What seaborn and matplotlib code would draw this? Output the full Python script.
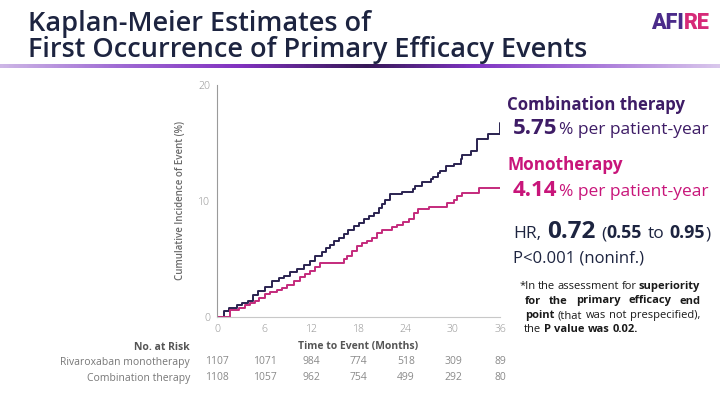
import numpy as np
import pandas as pd
import matplotlib
matplotlib.use("Agg")
import matplotlib.pyplot as plt
from matplotlib.colors import LinearSegmentedColormap
import seaborn as sns

# ---------------- data ----------------
combo_t = [0, 0.8, 1.5, 2.5, 3.1, 3.9, 4.6, 5.2, 6.1, 7.0, 7.8, 8.5, 9.3, 10.1, 11.0, 11.8,
           12.5, 13.3, 13.8, 14.3, 14.9, 15.5, 16.1, 16.7, 17.4, 18.0, 18.7, 19.3, 19.9,
           20.6, 21.0, 21.4, 22.0, 23.5, 24.9, 25.2, 26.1, 27.2, 27.5, 28.1, 28.4, 29.1,
           30.1, 31.0, 31.2, 32.3, 33.1, 34.5, 36.0]
combo_y = [0, 0.5, 0.75, 1.05, 1.2, 1.35, 1.85, 2.2, 2.6, 3.05, 3.35, 3.55, 3.85, 4.15,
           4.45, 4.85, 5.25, 5.55, 5.9, 6.2, 6.5, 6.8, 7.15, 7.5, 7.8, 8.1, 8.4, 8.65, 8.95,
           9.4, 9.7, 10.05, 10.55, 10.75, 11.0, 11.3, 11.6, 11.9, 12.1, 12.4, 12.6, 13.0,
           13.2, 13.6, 14.0, 14.3, 15.3, 15.8, 16.7]
mono_t = [0, 1.6, 2.7, 3.5, 4.2, 4.8, 5.3, 6.1, 6.7, 7.6, 8.2, 8.9, 9.8, 10.5, 11.2, 11.8,
          12.5, 13.1, 16.1, 16.5, 17.2, 17.8, 18.4, 19.1, 19.7, 20.4, 21.0, 22.3, 22.9,
          23.7, 24.4, 25.0, 25.6, 27.0, 29.2, 30.1, 30.5, 31.2, 33.3, 36.0]
mono_y = [0, 0.6, 0.75, 1.0, 1.2, 1.35, 1.65, 1.95, 2.15, 2.3, 2.5, 2.75, 3.1, 3.45, 3.65,
          3.95, 4.25, 4.66, 4.97, 5.25, 5.63, 6.06, 6.35, 6.55, 6.8, 7.2, 7.5, 7.75, 7.95,
          8.2, 8.4, 8.95, 9.3, 9.5, 9.8, 10.05, 10.4, 10.65, 11.1, 11.1]

month_ticks = [0, 6, 12, 18, 24, 30, 36]
y_ticks = [0, 10, 20]
risk_labels = ["Rivaroxaban monotherapy", "Combination therapy"]
risk_mono = [1107, 1071, 984, 774, 518, 309, 89]
risk_combo = [1108, 1057, 962, 754, 499, 292, 80]

title_lines = ["Kaplan-Meier Estimates of", "First Occurrence of Primary Efficacy Events"]

# ---------------- style ----------------
sns.set_theme(style="white")
plt.rcParams["font.family"] = ["Open Sans", "DejaVu Sans"]

C_COMBO = "#2a2250"
C_MONO = "#c42a7c"
C_COMBO_TXT = "#3e1c66"
C_MONO_TXT = "#c8157a"
C_DARK = "#1d2440"

W, H = 720, 405
fig = plt.figure(figsize=(7.2, 4.05), dpi=100)
fig.patch.set_facecolor("white")
renderer = fig.canvas.get_renderer()


def fx(x):
    return x / W


def fy(y):
    return 1 - y / H


# ---------------- title + gradient ----------------
fig.text(fx(28), fy(31), title_lines[0], fontsize=19.5, fontweight="semibold",
         color=C_DARK, va="baseline", ha="left")
fig.text(fx(28), fy(57.5), title_lines[1], fontsize=19.5, fontweight="semibold",
         color=C_DARK, va="baseline", ha="left")

gax = fig.add_axes([0, fy(68.5), 1, 4.5 / H])
gcmap = LinearSegmentedColormap.from_list(
    "g", [(0.0, "#cdb6e6"), (0.16, "#a06cd4"), (0.33, "#8232c0"), (0.51, "#361856"),
          (0.66, "#7f34c2"), (0.82, "#a674d8"), (1.0, "#d9c7ec")])
gax.imshow(np.linspace(0, 1, 400)[None, :], aspect="auto", cmap=gcmap)
gax.axis("off")

# AFIRE logo
t1 = fig.text(fx(651), fy(29), "AFI", fontsize=15.5, fontweight="heavy", color="#4b2b8a",
              family=["Roboto", "DejaVu Sans"], va="baseline", ha="left")
bb = t1.get_window_extent(renderer=renderer)
fig.text(fx(651 + bb.width + 0.5), fy(29), "RE", fontsize=15.5, fontweight="heavy",
         color="#d62a78", family=["Roboto", "DejaVu Sans"], va="baseline", ha="left")

# ---------------- KM plot ----------------
ax = fig.add_axes([fx(217.3), fy(316.7), (500 - 217.3) / W, (316.7 - 85) / H])
df = pd.concat([
    pd.DataFrame({"t": combo_t, "y": combo_y, "grp": "Combination therapy"}),
    pd.DataFrame({"t": mono_t, "y": mono_y, "grp": "Monotherapy"}),
])
sns.lineplot(data=df, x="t", y="y", hue="grp", estimator=None, drawstyle="steps-post",
             palette={"Combination therapy": C_COMBO, "Monotherapy": C_MONO},
             linewidth=1.4, legend=False, ax=ax)
ax.set_xlim(0, 36)
ax.set_ylim(0, 20)
ax.set_xticks(month_ticks)
ax.set_yticks(y_ticks)
ax.set_xlabel("")
ax.set_ylabel("")
for s in ["top", "right"]:
    ax.spines[s].set_visible(False)
for s in ["left", "bottom"]:
    ax.spines[s].set_color("#9a9a9a")
    ax.spines[s].set_linewidth(0.8)
ax.spines["bottom"].set_color("#c8c8c8")
ax.tick_params(axis="both", which="both", direction="out", length=3, width=0.7,
               color="#9a9a9a", labelcolor="#8f8f8f", labelsize=7.5, pad=2)
ax.patch.set_alpha(0)
for lab in ax.get_xticklabels() + ax.get_yticklabels():
    lab.set_fontweight("light")

fig.text(fx(180.5), fy(200), "Cumulative Incidence of Event (%)", rotation=90,
         fontsize=7, fontweight="semibold", color="#6a6a6a", ha="center", va="center")

# ---------------- risk table ----------------
fig.text(fx(190), fy(347), "No. at Risk", fontsize=7.5, fontweight="bold", color="#555555",
         ha="right", va="center")
fig.text(fx(358), fy(347), "Time to Event (Months)", fontsize=7.5, fontweight="bold",
         color="#555555", ha="center", va="center")
row_y = [362, 378]
for lab, vals, yy in zip(risk_labels, [risk_mono, risk_combo], row_y):
    fig.text(fx(190), fy(yy), lab, fontsize=7.5, color="#777777", ha="right", va="center")
    for m, v in zip(month_ticks, vals):
        ax.text(m, (316.7 - yy) / (316.7 - 85) * 20, str(v), fontsize=7.5, color="#8a8a8a",
                ha="center", va="center", clip_on=False)


# ---------------- right panel ----------------
def runs(x, ybase, parts):
    for s, kw in parts:
        if s == " ":
            x += kw
            continue
        t = fig.text(fx(x), fy(ybase), s, va="baseline", ha="left", **kw)
        x += t.get_window_extent(renderer=renderer).width
    return x


fig.text(fx(507), fy(110), "Combination therapy", fontsize=12.1, fontweight="bold",
         color=C_COMBO_TXT, va="baseline", ha="left")
runs(513, 134.5, [("5.75", dict(fontsize=16, fontweight="bold", color=C_COMBO_TXT)),
                  (" ", 1.5),
                  ("% per patient-year", dict(fontsize=12.5, color=C_COMBO_TXT))])
fig.text(fx(507), fy(170), "Monotherapy", fontsize=12.3, fontweight="bold",
         color=C_MONO_TXT, va="baseline", ha="left")
runs(513, 196, [("4.14", dict(fontsize=16, fontweight="bold", color=C_MONO_TXT)),
                (" ", 1.5),
                ("% per patient-year", dict(fontsize=12.5, color=C_MONO_TXT))])

runs(513, 238.5, [("HR,", dict(fontsize=12.5, color=C_DARK)), (" ", 6),
                  ("0.72", dict(fontsize=17.5, fontweight="bold", color=C_DARK)), (" ", 6),
                  ("(", dict(fontsize=12.5, color=C_DARK)),
                  ("0.55", dict(fontsize=12.8, fontweight="bold", color=C_DARK)), (" ", 5.5),
                  ("to", dict(fontsize=12.5, color=C_DARK)), (" ", 5.5),
                  ("0.95", dict(fontsize=12.8, fontweight="bold", color=C_DARK)),
                  (")", dict(fontsize=12.5, color=C_DARK))])
fig.text(fx(513), fy(262.5), "P<0.001 (noninf.)", fontsize=12, color=C_DARK,
         va="baseline", ha="left")

FN = 8
foot = [
    (520, 700, 289, [("*In", False), ("the", False), ("assessment", False), ("for", False),
                     ("superiority", True)], True),
    (525, 700, 303.5, [("for", True), ("the", True), ("primary", True), ("efficacy", True),
                       ("end", True)], True),
    (525, 700, 318, [("point", True), ("(that", False), ("was", False), ("not", False),
                     ("prespecified),", False)], True),
    (524, 700, 332, [("the", False), ("P", True), ("value", True), ("was", True),
                     ("0.02.", True)], False),
]
for x0, x1, yb, words, justify in foot:
    texts = []
    for w, b in words:
        t = fig.text(fx(x0), fy(yb), w, fontsize=FN, color="#1a1a1a",
                     fontweight="bold" if b else "normal", va="baseline", ha="left")
        texts.append(t)
    widths = [t.get_window_extent(renderer=renderer).width for t in texts]
    gap = (x1 - x0 - sum(widths)) / (len(texts) - 1) if justify else 3.0
    x = x0
    for t, wd in zip(texts, widths):
        t.set_x(fx(x))
        x += wd + gap

fig.savefig("out.png", dpi=100)
